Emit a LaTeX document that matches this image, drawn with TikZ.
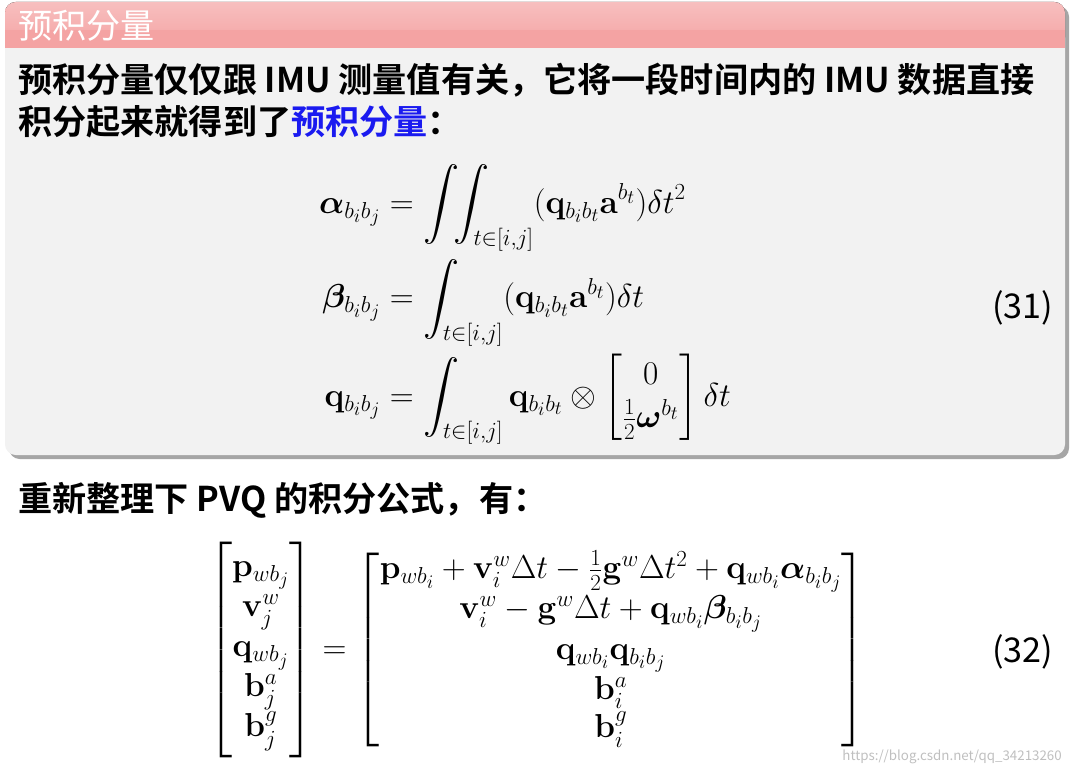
\documentclass[tikz,border=0pt]{standalone}
\usepackage{amsmath,amssymb,bm}
\usepackage[no-math]{fontspec}
\setmainfont{Noto Sans CJK SC}[BoldFont={Noto Sans CJK SC Bold}]
\usetikzlibrary{shadows}
\definecolor{titlered}{HTML}{F4A3A3}
\definecolor{bodygray}{HTML}{F2F2F2}
\definecolor{mblue}{HTML}{1A1AF0}
\begin{document}
\begin{tikzpicture}[x=0.75pt,y=-0.75pt,
  txt/.style={anchor=west,inner sep=0pt,font=\fontsize{25.6}{30}\selectfont\bfseries},
  mth/.style={inner sep=0pt,font=\fontsize{27}{32}\selectfont}]
\useasboundingbox (0,0) rectangle (1070,774);
\fill[black!35,rounded corners=8pt] (9,6) rectangle (1069,459);
\fill[bodygray,rounded corners=8pt] (5,2) rectangle (1065,455);
\fill[top color=titlered!70,bottom color=titlered,rounded corners=8pt] (5,2) rectangle (1065,48);
\fill[titlered] (5,30) rectangle (1065,48);
\node[txt,text=white,font=\fontsize{25.6}{30}\selectfont] (title) at (18,26) {预积分量};
\node[txt] (l1) at (18,80) {预积分量仅仅跟 IMU 测量值有关，它将一段时间内的 IMU 数据直接};
\node[txt] (l2) at (18,122) {积分起来就得到了\textcolor{mblue}{预积分量}：};
\node[mth,anchor=base] (e31) at (525,313) {$\displaystyle
\begin{aligned}
\boldsymbol{\alpha}_{b_ib_j} &= \int\!\!\int_{t\in[i,j]} (\mathbf{q}_{b_ib_t}\mathbf{a}^{b_t})\delta t^2\\[2pt]
\boldsymbol{\beta}_{b_ib_j} &= \int_{t\in[i,j]} (\mathbf{q}_{b_ib_t}\mathbf{a}^{b_t})\delta t\\[2pt]
\mathbf{q}_{b_ib_j} &= \int_{t\in[i,j]} \mathbf{q}_{b_ib_t}\otimes\begin{bmatrix}0\\ \frac12\boldsymbol{\omega}^{b_t}\end{bmatrix}\delta t
\end{aligned}$};
\node[txt,font=\fontsize{25.6}{30}\selectfont] (n31) at (992,308) {(31)};
\node[txt] (l3) at (18,500) {重新整理下 PVQ 的积分公式，有：};
\node[mth] (e32) at (537,650) {$\displaystyle\renewcommand\arraystretch{0.9}
\begin{bmatrix}\mathbf{p}_{wb_j}\\ \mathbf{v}^w_j\\ \mathbf{q}_{wb_j}\\ \mathbf{b}^a_j\\ \mathbf{b}^g_j\end{bmatrix}
=\begin{bmatrix}\mathbf{p}_{wb_i}+\mathbf{v}^w_i\Delta t-\frac12\mathbf{g}^w\Delta t^2+\mathbf{q}_{wb_i}\boldsymbol{\alpha}_{b_ib_j}\\
\mathbf{v}^w_i-\mathbf{g}^w\Delta t+\mathbf{q}_{wb_i}\boldsymbol{\beta}_{b_ib_j}\\
\mathbf{q}_{wb_i}\mathbf{q}_{b_ib_j}\\ \mathbf{b}^a_i\\ \mathbf{b}^g_i\end{bmatrix}$};
\node[txt,font=\fontsize{25.6}{30}\selectfont] (n32) at (992,652) {(32)};
\node[anchor=east,inner sep=0pt,text=black!25,font=\fontsize{10}{12}\selectfont] (wm) at (1062,757) {https://blog.csdn.net/qq\_34213260};
\end{tikzpicture}
\end{document}
